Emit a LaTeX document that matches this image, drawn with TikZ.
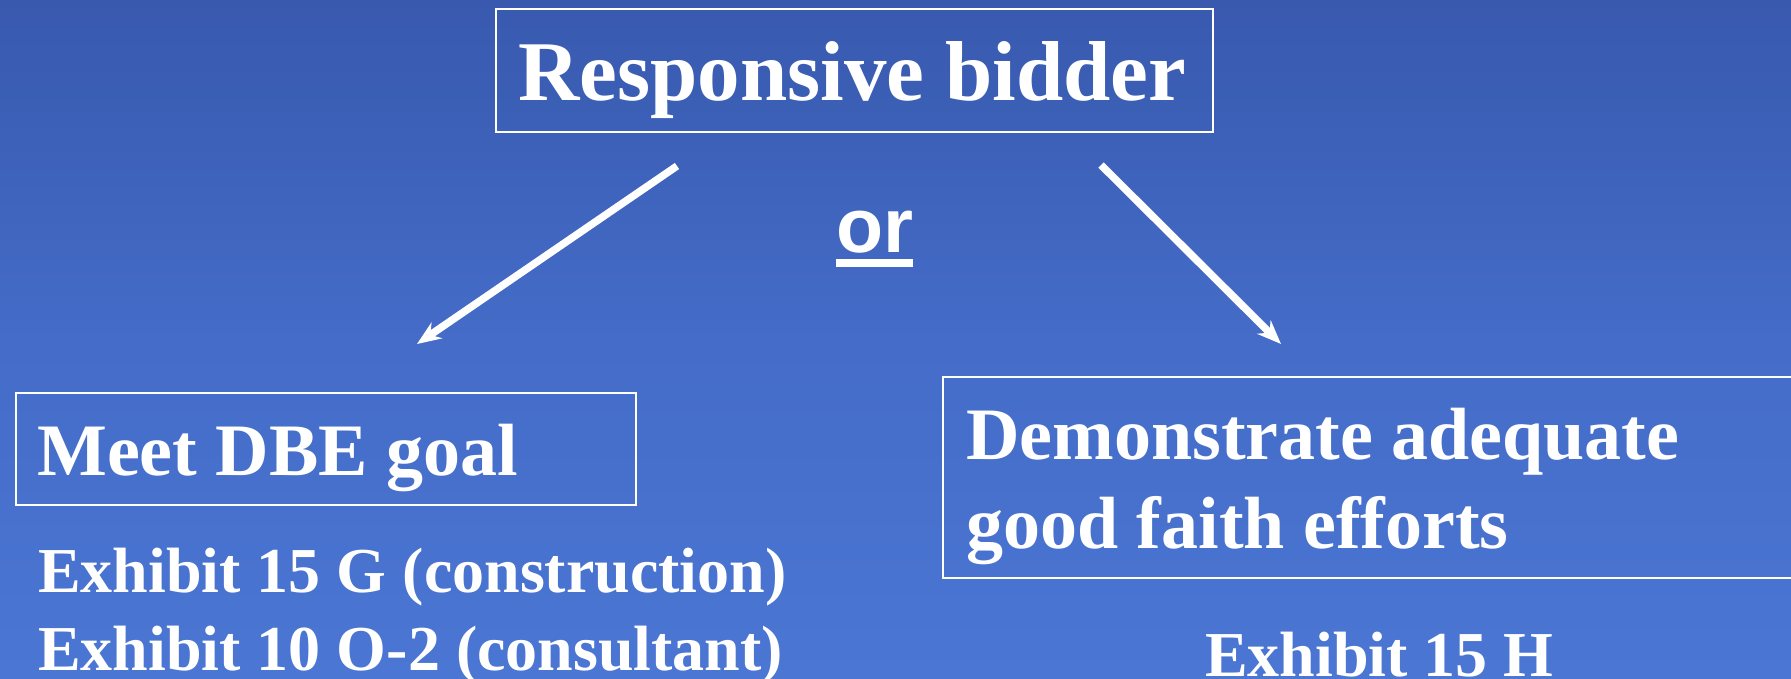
\documentclass[tikz,border=0pt]{standalone}
\usepackage{fontspec}
\setmainfont{Liberation Serif}
\newfontfamily\orfont{Liberation Sans}
\usetikzlibrary{arrows.meta}
\definecolor{bgtop}{RGB}{56,89,174}
\definecolor{bgmid}{RGB}{68,108,200}
\definecolor{bgbot}{RGB}{75,118,211}
\begin{document}
\begin{tikzpicture}[x=1pt,y=-1pt,
  frame/.style={draw=white,line width=2pt,inner sep=0pt},
  txt/.style={text=white,inner sep=0pt,anchor=base west},
  big/.style={txt,font=\fontsize{85}{100}\selectfont\bfseries},
  mid/.style={txt,font=\fontsize{74}{89}\selectfont\bfseries},
  small/.style={txt,font=\fontsize{64}{77}\selectfont\bfseries},
  link/.style={draw=white,line width=7.5pt,-{Stealth[length=24pt,width=19pt,inset=8pt]}}
]
\useasboundingbox (0,0) rectangle (1791,678);
\clip (0,0) rectangle (1791,678);
\shade[top color=bgtop,bottom color=bgbot,middle color=bgmid] (0,0) rectangle (1791,678);

% boxes
\node[frame,minimum width=717pt,minimum height=123pt] (topbox) at (854.5,70.5) {};
\node[frame,minimum width=620pt,minimum height=112pt] (leftbox) at (326,449) {};
\node[frame,minimum width=857pt,minimum height=201pt] (rightbox) at (1371.5,477.5) {};

% texts
\node[big] (resp) at (518,100) {Responsive bidder};
\node[mid] (meet) at (37,475) {Meet DBE goal};
\node[mid] (demoA) at (966,459) {Demonstrate adequate};
\node[mid] (demoB) at (966,548) {good faith efforts};
\node[small] (exA) at (38,592) {Exhibit 15 G (construction)};
\node[small] (exB) at (38,670) {Exhibit 10 O-2 (consultant)};
\node[small] (exH) at (1205,676) {Exhibit 15 H};
\node[txt,font=\orfont\fontsize{77}{90}\selectfont\bfseries] (or) at (836,252) {or};
\draw[white,line width=8pt] ([yshift=-11pt]or.base west) -- ([yshift=-11pt]or.base east);

% connectors
\coordinate (lstart) at (677,166);
\coordinate (lend) at (417,344);
\coordinate (rstart) at (1101,165);
\coordinate (rend) at (1281,344);
\draw[link] (lstart) -- (lend);
\draw[link] (rstart) -- (rend);
\end{tikzpicture}
\end{document}
